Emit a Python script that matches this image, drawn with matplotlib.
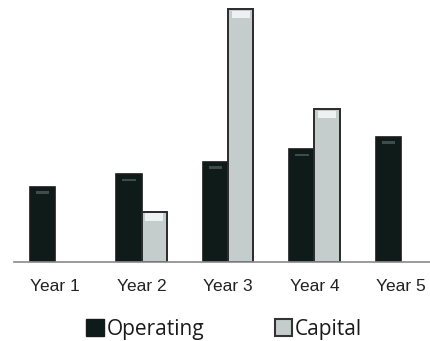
import numpy as np
import matplotlib.pyplot as plt
from matplotlib.patches import Rectangle

years = ["Year 1", "Year 2", "Year 3", "Year 4", "Year 5"]
operating = [3.0, 3.5, 4.0, 4.5, 5.0]
capital = [0.0, 2.0, 10.1, 6.1, 0.0]

OP_COLOR = "#0e1b18"
OP_SHINE = "#3f4d4a"
CAP_COLOR = "#c4cccc"
CAP_SHINE = "#eef1f1"
EDGE = "#1a1a1a"
WIDTH = 0.29

fig = plt.figure(figsize=(4.31, 3.41), dpi=100)
ax = fig.add_axes([0.0325, 0.2317, 0.9675, 0.7683])

x = np.arange(len(years))
op_x = x - WIDTH / 2
cap_x = x + WIDTH / 2

ax.bar(op_x, operating, WIDTH, color=OP_COLOR, edgecolor=EDGE, linewidth=1.2)
cap_vals = np.array(capital)
mask = cap_vals > 0
ax.bar(cap_x[mask], cap_vals[mask], WIDTH, color=CAP_COLOR,
       edgecolor="#2a2a2a", linewidth=1.4)

# bevel highlight just under each bar top
for xi, v in zip(op_x, operating):
    ax.bar(xi, 0.1, WIDTH * 0.55, bottom=v - 0.28, color=OP_SHINE, linewidth=0)
for xi, v in zip(cap_x[mask], cap_vals[mask]):
    ax.bar(xi, 0.3, WIDTH * 0.72, bottom=v - 0.36, color=CAP_SHINE, linewidth=0)

ax.set_xlim(-0.474, 4.347)
ax.set_ylim(0, 10.48)
for s in ["top", "right", "left"]:
    ax.spines[s].set_visible(False)
ax.spines["bottom"].set_color("#8a8a8a")
ax.spines["bottom"].set_linewidth(1.2)
ax.set_yticks([])
ax.set_xticks(x)
ax.set_xticklabels(years, fontsize=12.5, family="Liberation Sans",
                   color="#222222")
ax.tick_params(axis="x", length=0, pad=12)

handles = [
    Rectangle((0, 0), 1, 1, facecolor=OP_COLOR, edgecolor=EDGE),
    Rectangle((0, 0), 1, 1, facecolor=CAP_COLOR, edgecolor="#333333", linewidth=1.5),
]
fig.legend(handles, ["Operating", "Capital"], loc="center",
           bbox_to_anchor=(0.52, 0.035), ncols=2, frameon=False,
           prop={"family": "Open Sans", "size": 15},
           handlelength=0.85, handleheight=0.85, handletextpad=0.12,
           columnspacing=3.4, labelcolor="#1a1a1a")

fig.savefig("out.png", dpi=100)
